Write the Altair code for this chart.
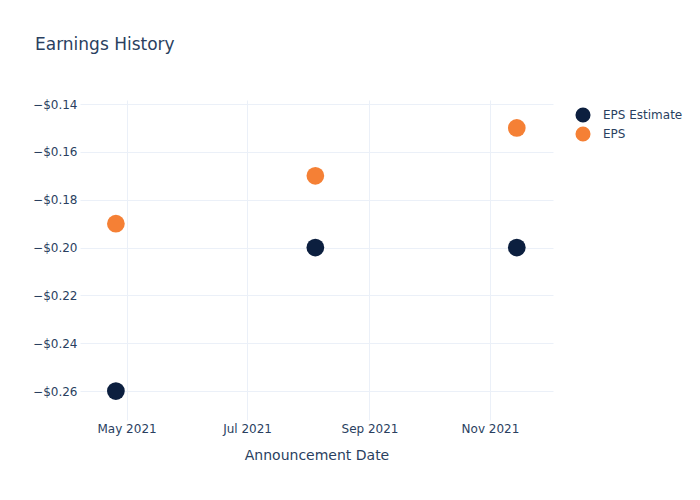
import altair as alt
import pandas as pd

dates = ["2021-04-25T14:00:00", "2021-08-04T14:00:00", "2021-11-14T14:00:00"]
eps_estimate = [-0.26, -0.20, -0.20]
eps_actual = [-0.19, -0.17, -0.15]
series_names = ["EPS Estimate", "EPS"]
series_colors = ["#0c1f3f", "#f58035"]
y_ticks = [-0.26, -0.24, -0.22, -0.20, -0.18, -0.16, -0.14]
x_ticks = ["2021-05-01", "2021-07-01", "2021-09-01", "2021-11-01"]

rows = []
for d, v in zip(dates, eps_estimate):
    rows.append({"date": d, "value": v, "series": series_names[0]})
for d, v in zip(dates, eps_actual):
    rows.append({"date": d, "value": v, "series": series_names[1]})
df = pd.DataFrame(rows)

font = "DejaVu Sans"
txt = "#2a3f5f"
grid = "#ebf0f8"

def dt(s):
    y, m, d = s[:10].split("-")
    return alt.DateTime(year=int(y), month=int(m), date=int(d))

chart = alt.Chart(df).mark_circle(size=314, opacity=1).encode(
    x=alt.X("date:T",
            scale=alt.Scale(domain=[alt.DateTime(year=2021, month=4, date=7, hours=10),
                                    alt.DateTime(year=2021, month=12, date=2, hours=22)]),
            axis=alt.Axis(title="Announcement Date", values=[dt(s) for s in x_ticks],
                          format="%b %Y", labelFont=font, labelFontSize=12, labelColor=txt,
                          titleFont=font, titleFontSize=14, titleColor=txt, titleFontWeight="normal",
                          titlePadding=14, labelPadding=3, tickSize=0, domain=False,
                          gridColor=grid, gridWidth=1)),
    y=alt.Y("value:Q",
            scale=alt.Scale(domain=[-0.2721, -0.1383], nice=False, zero=False),
            axis=alt.Axis(title=None, values=y_ticks, format="$.2f", labelFont=font,
                          labelFontSize=12, labelColor=txt, tickSize=0, labelPadding=3,
                          domain=False, gridColor=grid, gridWidth=1)),
    color=alt.Color("series:N",
                    scale=alt.Scale(domain=series_names, range=series_colors),
                    legend=alt.Legend(title=None, orient="none", legendX=495, legendY=7,
                                      labelFont=font, labelFontSize=12, labelColor=txt,
                                      symbolSize=227, symbolType="circle", rowPadding=3,
                                      labelOffset=12,
                                      symbolStrokeWidth=0, symbolOpacity=1)),
).properties(
    width=473, height=320,
    title=alt.TitleParams("Earnings History", anchor="start", frame="group", font=font,
                          fontSize=17, fontWeight="normal", color=txt, dx=-45, offset=44),
    padding={"left": 72, "top": 92, "right": 138, "bottom": 72},
    autosize=alt.AutoSizeParams(type="none"),
).configure_view(stroke=None)

chart.save("out.html", embed_options={"renderer": "svg", "actions": False})
